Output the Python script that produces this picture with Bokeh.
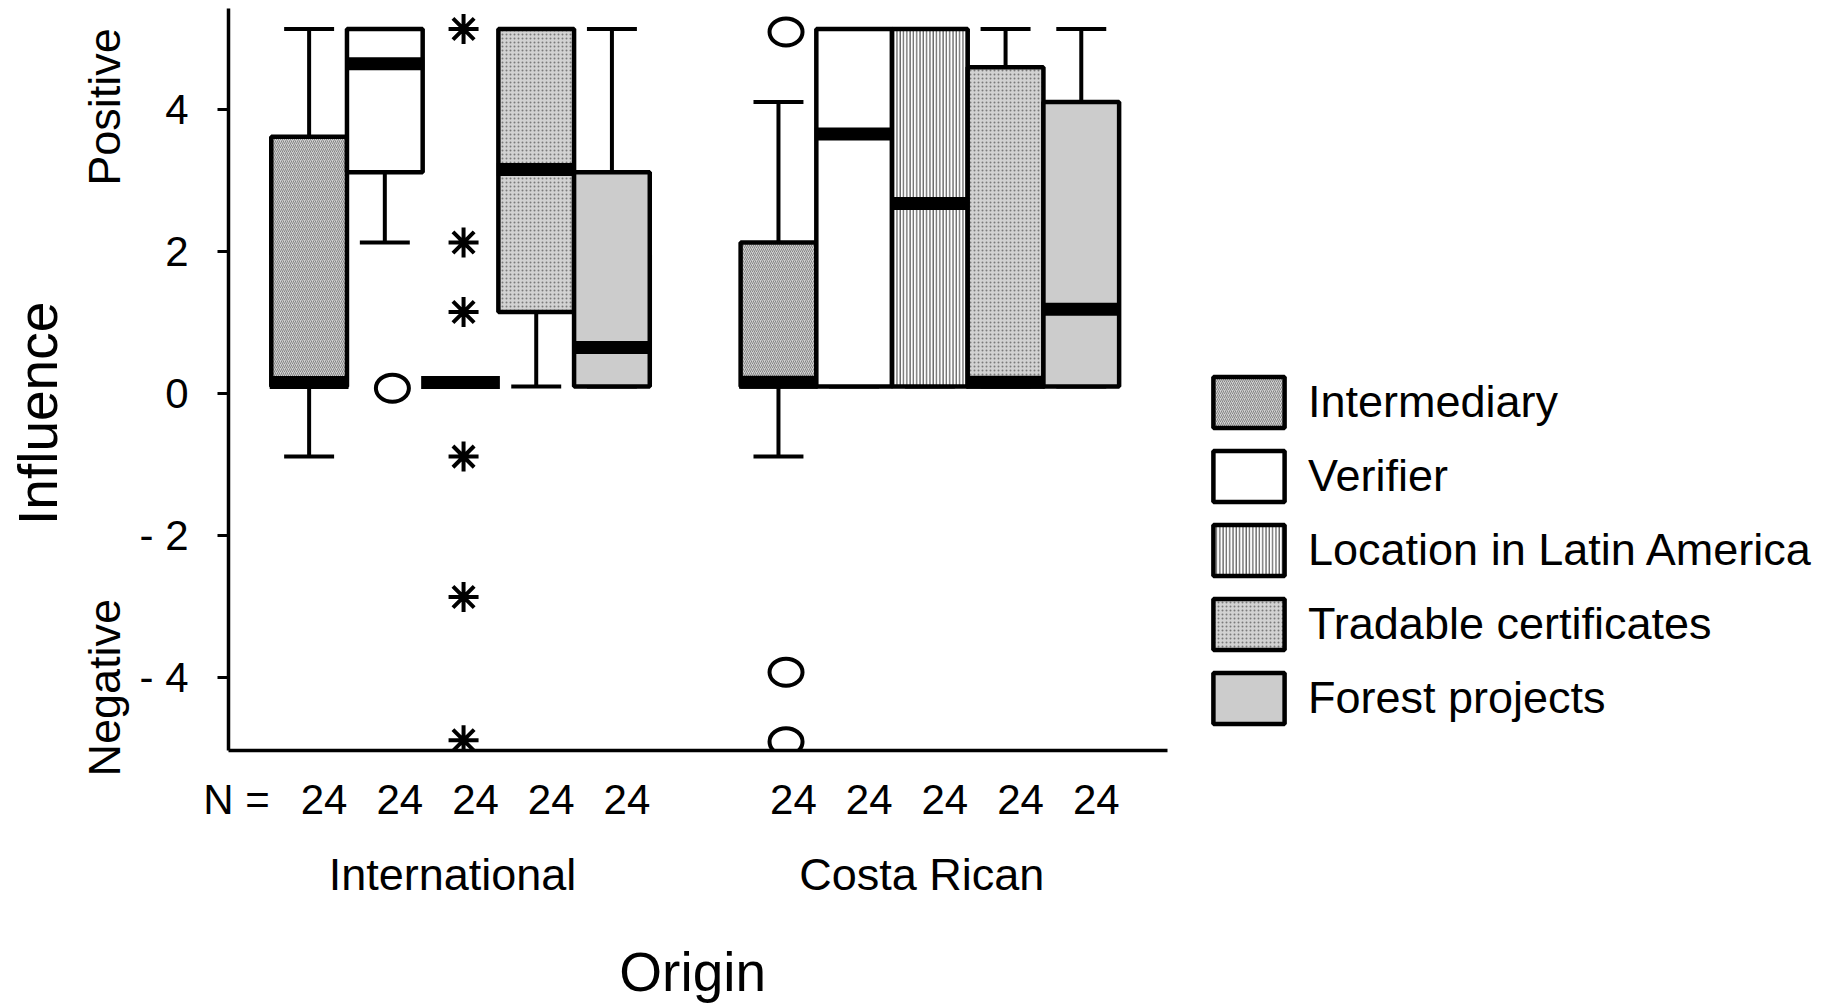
import math
from bokeh.plotting import figure
from bokeh.models import (FixedTicker, Range1d, LinearAxis, ColumnDataSource,
                          Legend, LegendItem)
from bokeh.embed import file_html
from bokeh.resources import INLINE

# ---------------- data ----------------
groups = ["International", "Costa Rican"]
categories = ["Intermediary", "Verifier", "Location in Latin America",
              "Tradable certificates", "Forest projects"]

# one entry per box, International boxes first, then Costa Rican
box_group = ["International"] * 5 + ["Costa Rican"] * 5
box_cat = categories * 2
whisker_low = [-0.89, 2.13, 0.155, 0.10, 0.10, -0.89, 0.10, 0.10, 0.10, 0.10]
q1 = [0.10, 3.12, 0.155, 1.15, 0.10, 0.10, 0.10, 0.10, 0.10, 0.10]
median = [0.155, 4.65, 0.155, 3.16, 0.65, 0.16, 3.66, 2.68, 0.16, 1.19]
q3 = [3.62, 5.14, 0.155, 5.14, 3.12, 2.13, 5.14, 5.14, 4.60, 4.11]
whisker_high = [5.14, 5.14, 0.155, 5.14, 5.14, 4.11, 5.14, 5.14, 5.14, 5.14]
n_values = [24, 24, 24, 24, 24, 24, 24, 24, 24, 24]

# outliers (o) and extreme values (*)
outlier_group = ["International", "Costa Rican", "Costa Rican", "Costa Rican"]
outlier_cat = ["Verifier", "Intermediary", "Intermediary", "Intermediary"]
outlier_value = [0.075, 5.10, -3.93, -4.91]
extreme_group = ["International"] * 6
extreme_cat = ["Location in Latin America"] * 6
extreme_value = [5.14, 2.13, 1.15, -0.89, -2.87, -4.89]

y_ticks = [-4, -2, 0, 2, 4]
y_tick_labels = ["- 4", "- 2", "0", "2", "4"]
y_title = "Influence"
y_ends = ["Positive", "Negative"]
x_title = "Origin"
n_prefix = "N ="

# ---------------- layout helpers ----------------
GROUP_GAP = 6.2
FONT = "Liberation Sans"
X_START, X_AXIS_END, X_END = -0.065, 12.34, 21.15


def xpos(g, c):
    return groups.index(g) * GROUP_GAP + categories.index(c) + 1


styles = {
    "Intermediary": dict(fill_color="#d0d0d0", hatch_pattern="right_diagonal_line",
                         hatch_color="#858585", hatch_scale=4, hatch_weight=1),
    "Verifier": dict(fill_color="white"),
    "Location in Latin America": dict(fill_color="white", hatch_pattern="vertical_line",
                                      hatch_color="#6a6a6a", hatch_scale=3.3, hatch_weight=1.4),
    "Tradable certificates": dict(fill_color="#d2d2d2", hatch_pattern="dot",
                                  hatch_color="#7a7a7a", hatch_scale=4, hatch_weight=1.2),
    "Forest projects": dict(fill_color="#cccccc"),
}

p = figure(width=1834, height=1007, output_backend="svg", toolbar_location=None,
           x_range=Range1d(X_START, X_END), y_range=Range1d(-5.035, 5.43),
           min_border_left=228, min_border_right=0, min_border_top=8,
           min_border_bottom=257)
p.outline_line_color = None
p.xgrid.visible = False
p.ygrid.visible = False
p.background_fill_color = "white"
p.border_fill_color = "white"


def bare(axis):
    axis.axis_line_color = None
    axis.major_tick_line_color = None
    axis.minor_tick_line_color = None
    axis.major_tick_out = 0
    axis.major_tick_in = 0
    axis.major_label_text_font = FONT
    axis.major_label_text_color = "black"


# primary y axis with numbers
yax = p.yaxis[0]
yax.ticker = FixedTicker(ticks=y_ticks)
yax.major_label_overrides = {t: l for t, l in zip(y_ticks, y_tick_labels)}
yax.major_label_text_font = FONT
yax.major_label_text_font_size = "42px"
yax.major_label_text_color = "black"
yax.major_label_standoff = 29
yax.axis_line_width = 3.5
yax.axis_line_color = "black"
yax.major_tick_line_width = 3
yax.major_tick_line_color = "black"
yax.major_tick_out = 11
yax.major_tick_in = 0
yax.minor_tick_line_color = None

# Positive / Negative axis
end_pos = [4.04, -4.15]
pn_ax = LinearAxis(ticker=FixedTicker(ticks=end_pos),
                   major_label_overrides={v: t for v, t in zip(end_pos, y_ends)},
                   major_label_orientation="vertical", major_label_standoff=6)
bare(pn_ax)
pn_ax.major_label_text_font_size = "45px"
p.add_layout(pn_ax, "left")

# Influence axis
inf_pos = [-0.28]
inf_ax = LinearAxis(ticker=FixedTicker(ticks=inf_pos),
                    major_label_overrides={inf_pos[0]: y_title},
                    major_label_orientation="vertical", major_label_standoff=7)
bare(inf_ax)
inf_ax.major_label_text_font_size = "55px"
p.add_layout(inf_ax, "left")

xs = [xpos(g, c) for g, c in zip(box_group, box_cat)]

# primary x axis: N counts
n_ticks = [0.04] + [round(x + 0.198, 3) for x in xs]
n_labels = [n_prefix] + [str(n) for n in n_values]
xax = p.xaxis[0]
xax.bounds = (X_START, X_AXIS_END)
xax.ticker = FixedTicker(ticks=n_ticks)
xax.major_label_overrides = {t: l for t, l in zip(n_ticks, n_labels)}
xax.axis_line_width = 3.5
xax.axis_line_color = "black"
xax.major_tick_line_color = None
xax.minor_tick_line_color = None
xax.major_tick_out = 0
xax.major_tick_in = 0
xax.major_label_standoff = 25
xax.major_label_text_font = FONT
xax.major_label_text_font_size = "42px"
xax.major_label_text_color = "black"

# group axis
g_ticks = [round(sum(xpos(g, c) for c in categories) / len(categories) - 0.106, 3)
           for g in groups]
g_ax = LinearAxis(ticker=FixedTicker(ticks=g_ticks), bounds=(X_START, X_AXIS_END),
                  major_label_overrides={t: g for t, g in zip(g_ticks, groups)},
                  major_label_standoff=23)
bare(g_ax)
g_ax.major_label_text_font_size = "45px"
p.add_layout(g_ax, "below")

# axis title "Origin", centred under the drawn x axis
o_tick = [round((X_START + X_AXIS_END) / 2 - 0.07, 3)]
o_ax = LinearAxis(ticker=FixedTicker(ticks=o_tick), bounds=(X_START, X_AXIS_END),
                  major_label_overrides={o_tick[0]: x_title},
                  major_label_standoff=38)
bare(o_ax)
o_ax.major_label_text_font_size = "55px"
p.add_layout(o_ax, "below")

# whiskers
p.segment(x0=xs, y0=q3, x1=xs, y1=whisker_high, line_color="black", line_width=4)
p.segment(x0=xs, y0=q1, x1=xs, y1=whisker_low, line_color="black", line_width=4)
p.segment(x0=[x - 0.33 for x in xs], y0=whisker_high, x1=[x + 0.33 for x in xs],
          y1=whisker_high, line_color="black", line_width=4)
p.segment(x0=[x - 0.33 for x in xs], y0=whisker_low, x1=[x + 0.33 for x in xs],
          y1=whisker_low, line_color="black", line_width=4)

# boxes, one renderer per category
legend_items = []
for c in categories:
    idx = [i for i, bc in enumerate(box_cat) if bc == c]
    src = ColumnDataSource(dict(
        left=[xs[i] - 0.5 for i in idx], right=[xs[i] + 0.5 for i in idx],
        bottom=[q1[i] for i in idx], top=[q3[i] for i in idx]))
    r = p.quad(left="left", right="right", bottom="bottom", top="top", source=src,
               line_color="black", line_width=4.5, **styles[c])
    legend_items.append(LegendItem(label=c, renderers=[r]))

# medians
p.segment(x0=[x - 0.52 for x in xs], y0=median, x1=[x + 0.52 for x in xs], y1=median,
          line_color="black", line_width=13, line_cap="butt")

# outliers and extremes
ox = [xpos(g, c) + 0.1 for g, c in zip(outlier_group, outlier_cat)]
p.ellipse(x=ox, y=outlier_value, width=33, height=27, width_units="screen",
          height_units="screen", fill_color=None, line_color="black", line_width=4)
ex = [xpos(g, c) + 0.04 for g, c in zip(extreme_group, extreme_cat)]
p.scatter(x=ex, y=extreme_value, marker="asterisk", size=30, angle=math.pi / 2,
          line_color="black", line_width=4)

# legend
legend = Legend(items=legend_items, location=(976, 20), padding=0, margin=0,
                glyph_width=89, glyph_height=64, label_height=64, spacing=10,
                label_standoff=15, label_text_font=FONT, label_text_font_size="45px",
                label_text_color="black", border_line_color=None,
                background_fill_alpha=0)
p.add_layout(legend, "center")

open("out.html", "w").write(file_html(p, INLINE))
